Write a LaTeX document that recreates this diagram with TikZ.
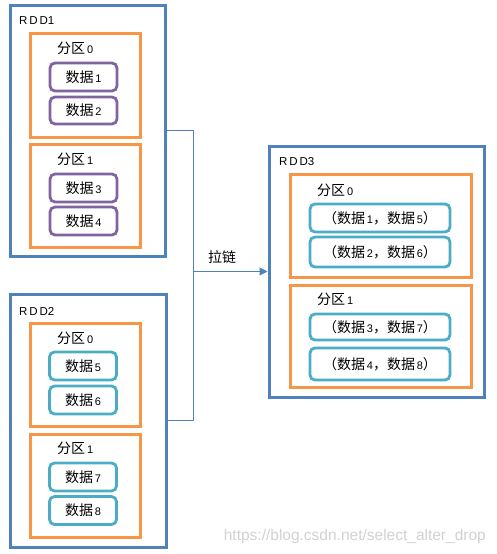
\documentclass[tikz,border=0pt]{standalone}
\usepackage{fontspec}
\setmainfont{Noto Sans CJK SC}
\newfontfamily\latinf{Liberation Sans}
\usetikzlibrary{arrows.meta}
\definecolor{cblue}{HTML}{4F81BD}
\definecolor{corange}{HTML}{F79646}
\definecolor{cpurple}{HTML}{8064A2}
\definecolor{cteal}{HTML}{4BACC6}
\newcommand{\dg}[1]{{\latinf\fontsize{11}{13}\selectfont\,#1}}
\tikzset{
  rddbox/.style={draw=cblue,line width=3pt,minimum width=#1,inner sep=0pt},
  partbox/.style={draw=corange,line width=3pt,minimum width=110pt,inner sep=0pt},
  purbox/.style={draw=cpurple,line width=2.8pt,rounded corners=5pt,minimum width=67pt,minimum height=28pt,inner sep=0pt,font=\fontsize{14}{16}\selectfont},
  tealbox/.style={draw=cteal,line width=2.8pt,rounded corners=5pt,minimum width=67pt,minimum height=28pt,inner sep=0pt,font=\fontsize{14}{16}\selectfont},
  lbl/.style={anchor=west,inner sep=0pt,font=\latinf\fontsize{11.5}{13}\selectfont},
  plbl/.style={anchor=west,inner sep=0pt,font=\fontsize{14}{16}\selectfont},
  conn/.style={draw=cblue,line width=1pt}
}
\begin{document}
\begin{tikzpicture}[x=1pt,y=-1pt]
\useasboundingbox (0,0) rectangle (496,554);
% RDD1
\node[rddbox=155pt,minimum height=251pt] (R1) at (87.5,130.5) {};
\node[lbl] (R1l) at (19,21) {R\,D\,D1};
\node[partbox,minimum height=104pt] (P10) at (85,85) {};
\node[plbl] (P10l) at (57,48) {分区\dg{0}};
\node[purbox] (d1) at (83.5,77) {数据\dg{1}};
\node[purbox,minimum height=27pt] (d2) at (83.5,110.5) {数据\dg{2}};
\node[partbox,minimum height=103pt] (P11) at (85,195.5) {};
\node[plbl] (P11l) at (57,159) {分区\dg{1}};
\node[purbox] (d3) at (83.5,188) {数据\dg{3}};
\node[purbox] (d4) at (83.5,221) {数据\dg{4}};
% RDD2
\node[rddbox=156pt,minimum height=253pt] (R2) at (88,420.5) {};
\node[lbl] (R2l) at (19,311) {R\,D\,D2};
\node[partbox,minimum height=103pt] (P20) at (85,374.5) {};
\node[plbl] (P20l) at (57,338) {分区\dg{0}};
\node[tealbox] (d5) at (83,366) {数据\dg{5}};
\node[tealbox] (d6) at (83,400) {数据\dg{6}};
\node[partbox,minimum height=103pt] (P21) at (85,485.5) {};
\node[plbl] (P21l) at (57,448) {分区\dg{1}};
\node[tealbox] (d7) at (83,477) {数据\dg{7}};
\node[tealbox] (d8) at (83,510.5) {数据\dg{8}};
% RDD3
\node[rddbox=215pt,minimum height=251pt] (R3) at (376.5,271.5) {};
\node[lbl] (R3l) at (279,162) {R\,D\,D3};
\node[partbox,minimum width=181pt,minimum height=103pt] (P30) at (380.5,225.5) {};
\node[plbl] (P30l) at (317,190) {分区\dg{0}};
\node[tealbox,minimum width=140pt] (e1) at (380,218) {（数据\dg{1}，数据\dg{5}）};
\node[tealbox,minimum width=140pt,minimum height=30pt] (e2) at (380,252) {（数据\dg{2}，数据\dg{6}）};
\node[partbox,minimum width=181pt,minimum height=102pt] (P31) at (380.5,336) {};
\node[plbl] (P31l) at (317,299) {分区\dg{1}};
\node[tealbox,minimum width=140pt,minimum height=26pt] (e3) at (380,327) {（数据\dg{3}，数据\dg{7}）};
\node[tealbox,minimum width=140pt,minimum height=32pt] (e4) at (380,364) {（数据\dg{4}，数据\dg{8}）};
% connectors
\coordinate (j) at (193,271.5);
\draw[conn] (R1.east) -| (j);
\draw[conn] (R2.east) -| (j);
\draw[conn,-{Triangle[length=8pt,width=8pt]}] (j) -- (R3.west);
\node[inner sep=0pt,font=\fontsize{14}{16}\selectfont] (zip) at (222,257) {拉链};
% watermark
\node[anchor=east,inner sep=0pt,text=black!18,font=\latinf\fontsize{15.5}{17}\selectfont] (wm) at (486,536) {https://blog.csdn.net/select\_alter\_drop};
\end{tikzpicture}
\end{document}
